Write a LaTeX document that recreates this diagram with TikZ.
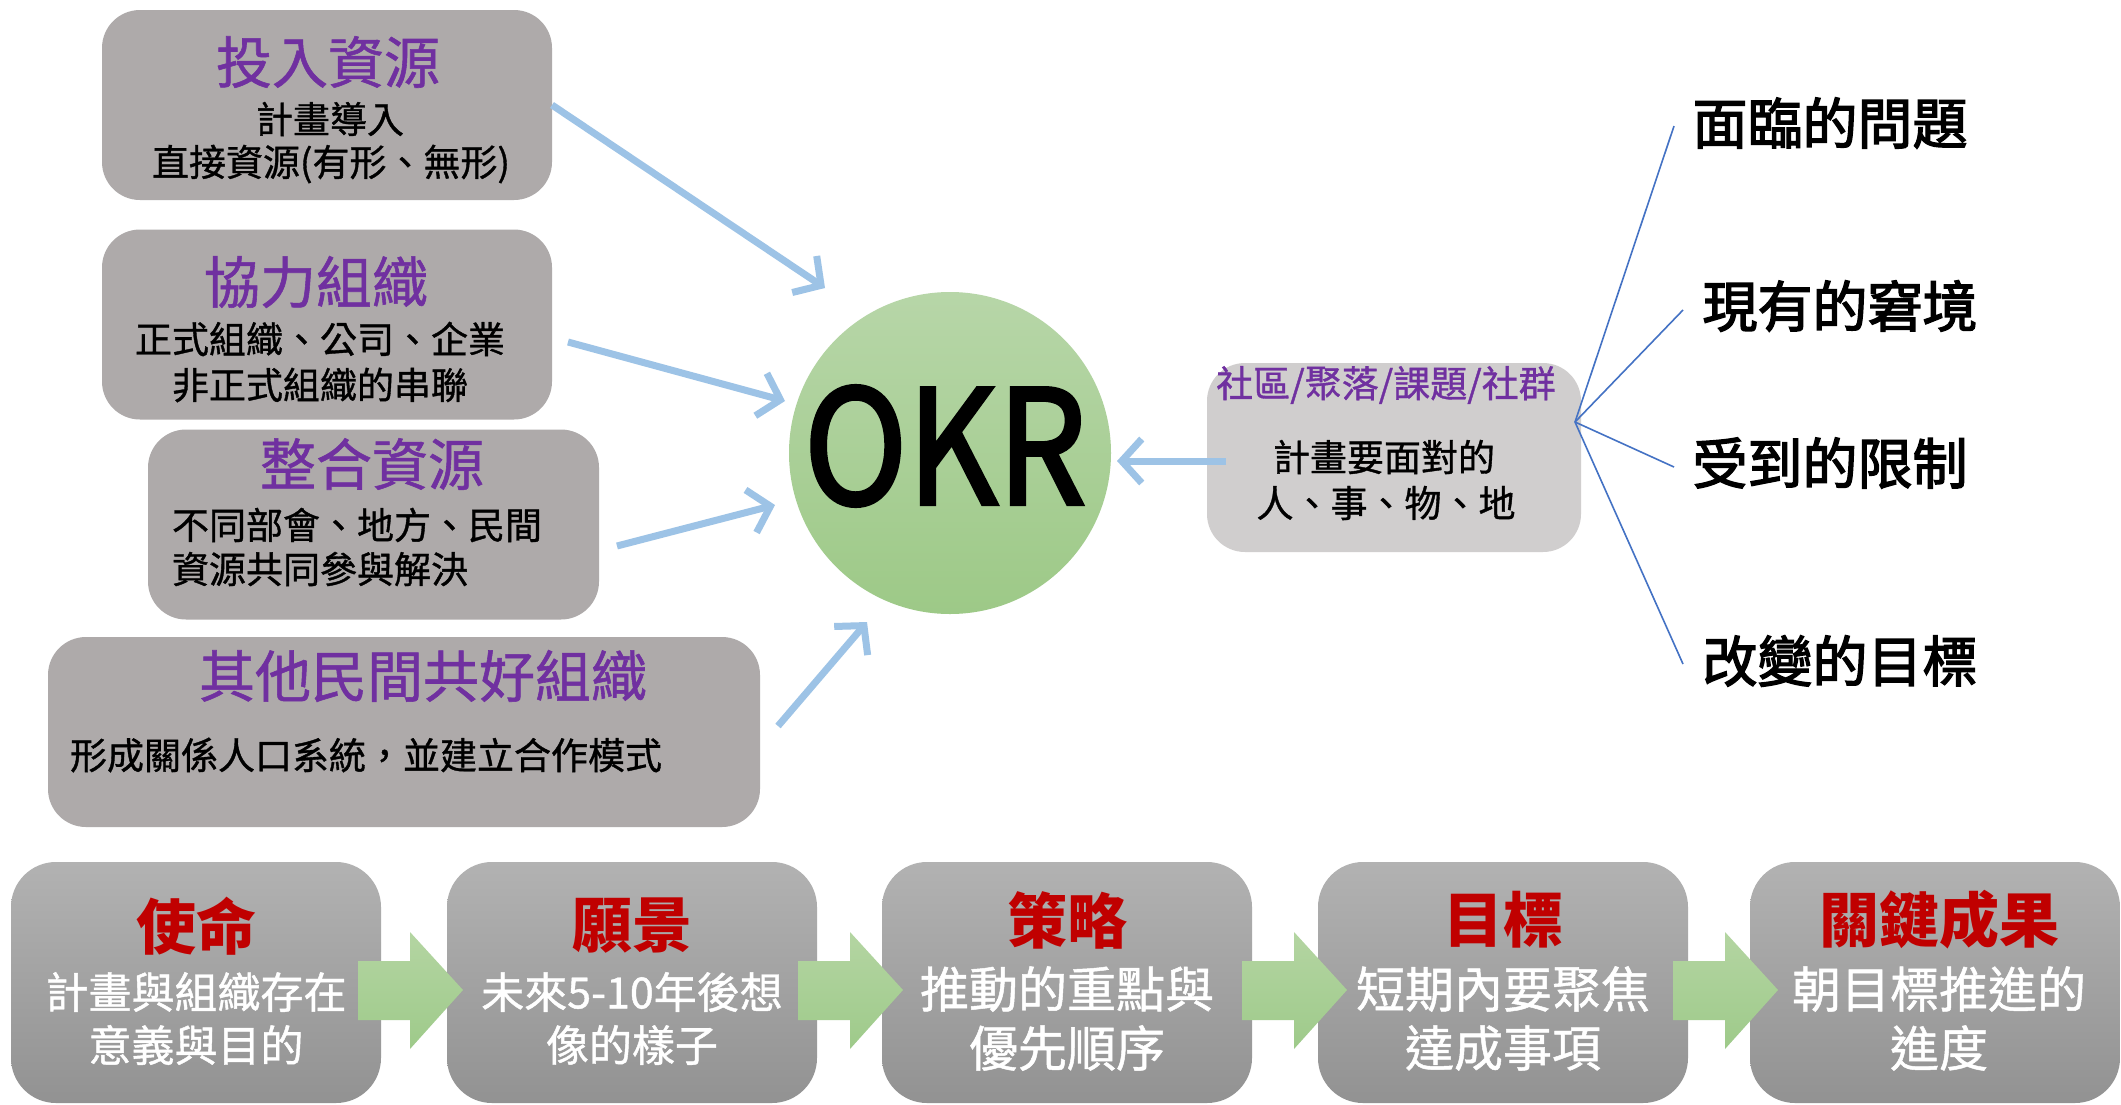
\documentclass[tikz,border=0pt]{standalone}
\usepackage{fontspec}
\usepackage{graphicx}
\newfontfamily\cjk{Noto Sans CJK TC}
\newfontfamily\cjkmed[FakeBold=2.5]{Noto Sans CJK TC}
\newfontfamily\cjklite[FakeBold=1]{Noto Sans CJK TC}
\usetikzlibrary{arrows.meta}
\definecolor{boxgray}{RGB}{174,170,170}
\definecolor{purp}{RGB}{112,48,160}
\definecolor{lgray}{RGB}{208,206,206}
\definecolor{arrblue}{RGB}{157,195,230}
\definecolor{fanblue}{RGB}{68,114,196}
\definecolor{okrtop}{RGB}{183,214,168}
\definecolor{okrbot}{RGB}{157,201,135}
\definecolor{btop}{RGB}{178,178,178}
\definecolor{bbot}{RGB}{146,146,146}
\definecolor{dred}{RGB}{192,0,0}
\definecolor{gtop}{RGB}{180,213,162}
\definecolor{gbot}{RGB}{158,202,138}
\begin{document}
\begin{tikzpicture}[x=1pt,y=-1pt,
  every node/.style={font=\cjk, inner sep=0pt, outer sep=0pt},
  topbox/.style={rounded corners=38pt, fill=boxgray, draw=none, minimum height=190pt},
  ttl/.style={font=\cjklite\fontsize{56}{60}\selectfont, text=purp},
  body/.style={font=\cjklite\fontsize{37}{40}\selectfont, text=black},
  rtitle/.style={font=\cjklite\fontsize{37}{40}\selectfont, text=purp},
  fantext/.style={font=\cjkmed\fontsize{55}{60}\selectfont, text=black},
  blarr/.style={draw=arrblue, line width=7pt, -{Straight Barb[length=20pt, width=44pt]}},
  fanline/.style={draw=fanblue, line width=1.6pt},
  botbox/.style={rounded corners=45pt, top color=btop, bottom color=bbot, draw=none, minimum width=370pt, minimum height=241pt},
  bttl/.style={font=\cjk\bfseries\fontsize{60}{64}\selectfont, text=dred},
  bbody/.style={font=\cjklite\fontsize{43}{46}\selectfont, text=white},
  bbodyl/.style={font=\cjklite\fontsize{49}{52}\selectfont, text=white},
  garrow/.style={top color=gtop, bottom color=gbot, draw=none}
]
\fill[white] (0,0) rectangle (2121,1104);
\useasboundingbox (0,0) rectangle (2121,1104);

% left boxes
\node[topbox, minimum width=450pt] (b1) at (327,105) {};
\node[topbox, minimum width=450pt] (b2) at (327,324.5) {};
\node[topbox, minimum width=451pt] (b3) at (373.5,524.5) {};
\node[topbox, minimum width=712pt] (b4) at (404,732) {};

\node[ttl] (t1) at (328,62) {投入資源};
\node[body] (t1a) at (330,119) {計畫導入};
\node[body] (t1b) at (331,164) {直接資源(有形、無形)};

\node[ttl] (t2) at (316,282) {協力組織};
\node[body] (t2a) at (320,339) {正式組織、公司、企業};
\node[body] (t2b) at (320,385) {非正式組織的串聯};

\node[ttl] (t3) at (372,464) {整合資源};
\node[body, anchor=west] (t3a) at (172,525) {不同部會、地方、民間};
\node[body, anchor=west] (t3b) at (172,569) {資源共同參與解決};

\node[ttl] (t4) at (423,676) {其他民間共好組織};
\node[body, anchor=west] (t4a) at (70,755) {形成關係人口系統，並建立合作模式};

% OKR circle
\node[circle, minimum size=322pt, top color=okrtop, bottom color=okrbot, draw=none] (okr) at (950,453) {};
\node (okrt) at (945,446) {\resizebox{282pt}{118pt}{\cjkmed OKR}};

% right box
\node[rounded corners=38pt, fill=lgray, draw=none, minimum width=374pt, minimum height=189pt] (rb) at (1394,457.5) {};
\node[rtitle] (rt) at (1386,385) {社區/聚落/課題/社群};
\node[body] (rta) at (1384,457) {計畫要面對的};
\node[body] (rtb) at (1386,503) {人、事、物、地};

% arrows to OKR
\coordinate (a2s) at (568,342);
\coordinate (a3s) at (617,546);
\coordinate (a4s) at (778,726);
\coordinate (a5s) at (1226,461);
\coordinate (a1e) at (825,288);
\coordinate (a2e) at (785,401);
\coordinate (a3e) at (775,505);
\coordinate (a4e) at (867,622);
\coordinate (a5e) at (1117,461);
\draw[blarr] (b1.east) -- (a1e);
\draw[blarr] (a2s) -- (a2e);
\draw[blarr] (a3s) -- (a3e);
\draw[blarr] (a4s) -- (a4e);
\draw[blarr] (a5s) -- (a5e);

% fan
\node[fantext] (f1) at (1830,123) {面臨的問題};
\node[fantext] (f2) at (1840,306) {現有的窘境};
\node[fantext] (f3) at (1830,463) {受到的限制};
\node[fantext] (f4) at (1840,661) {改變的目標};
\coordinate (fo) at (1575,422);
\coordinate (f1e) at (1674,126);
\coordinate (f2e) at (1683,310);
\coordinate (f3e) at (1674,467);
\coordinate (f4e) at (1683,664);
\draw[fanline] (fo) -- (f1e);
\draw[fanline] (fo) -- (f2e);
\draw[fanline] (fo) -- (f3e);
\draw[fanline] (fo) -- (f4e);

% bottom boxes
\node[botbox] (m1) at (196,982.5) {};
\node[botbox] (m2) at (632,982.5) {};
\node[botbox] (m3) at (1067,982.5) {};
\node[botbox] (m4) at (1503,982.5) {};
\node[botbox] (m5) at (1935,982.5) {};

\node[bttl] (m1t) at (196,926) {使命};
\node[bbody] (m1a) at (196,992) {計畫與組織存在};
\node[bbody] (m1b) at (196,1045) {意義與目的};

\node[bttl] (m2t) at (632,926) {願景};
\node[bbody] (m2a) at (632,992) {未來5-10年後想};
\node[bbody] (m2b) at (632,1045) {像的樣子};

\node[bttl] (m3t) at (1067,920) {策略};
\node[bbodyl] (m3a) at (1067,989) {推動的重點與};
\node[bbodyl] (m3b) at (1067,1048) {優先順序};

\node[bttl] (m4t) at (1503,920) {目標};
\node[bbodyl] (m4a) at (1503,989) {短期內要聚焦};
\node[bbodyl] (m4b) at (1503,1048) {達成事項};

\node[bttl] (m5t) at (1939,920) {關鍵成果};
\node[bbodyl] (m5a) at (1939,989) {朝目標推進的};
\node[bbodyl] (m5b) at (1939,1048) {進度};

% green block arrows
\foreach \x in {358,798,1242,1673}{
  \shade[garrow] (\x,961) -- (\x+52,961) -- (\x+52,932) -- (\x+105,990) -- (\x+52,1049) -- (\x+52,1020) -- (\x,1020) -- cycle;
}
\end{tikzpicture}
\end{document}
